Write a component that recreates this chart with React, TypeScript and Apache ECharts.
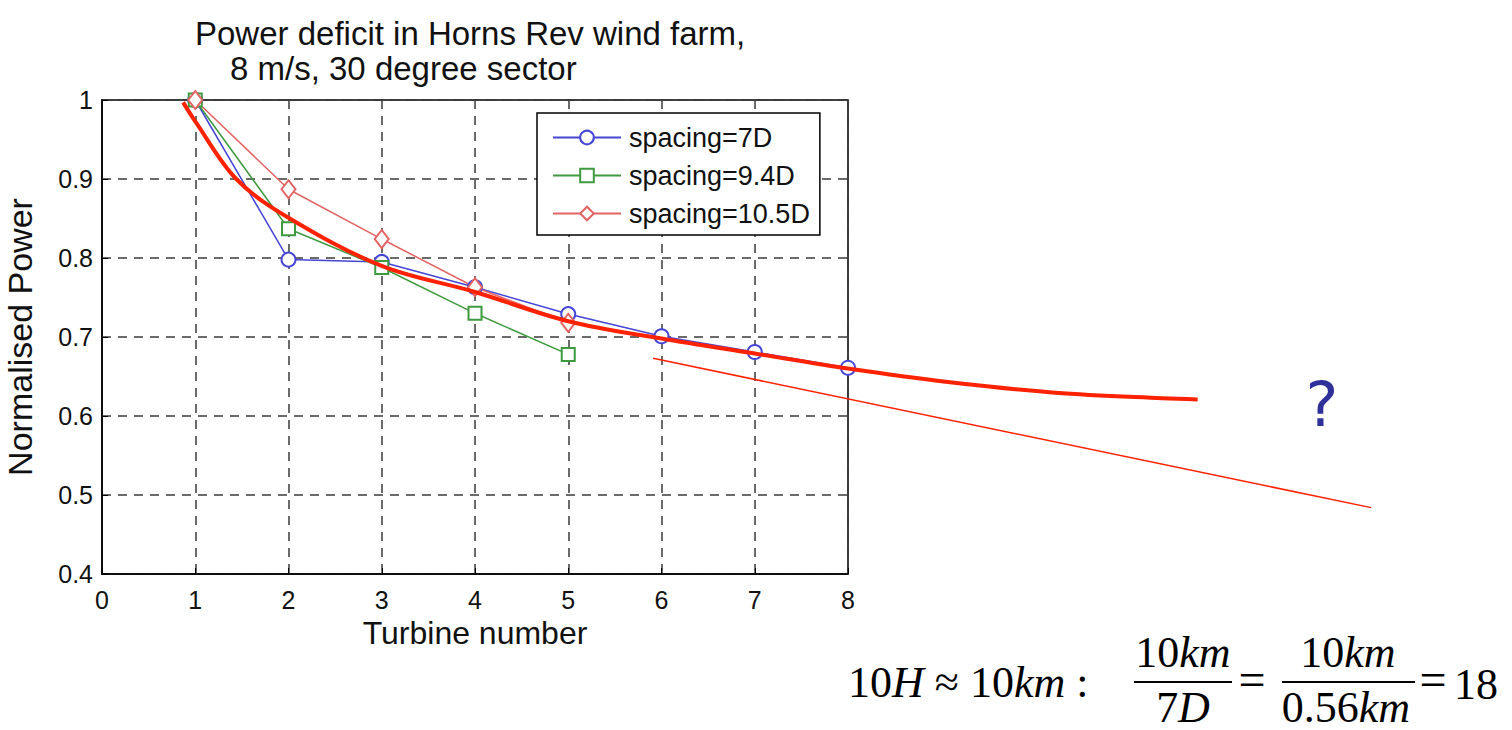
import React, { useEffect, useRef } from "react";
import * as echarts from "echarts";

// ---- data ----
const turbines7D = [1, 2, 3, 4, 5, 6, 7, 8];
const power7D = [1.0, 0.798, 0.795, 0.763, 0.729, 0.701, 0.681, 0.661];

const turbines94D = [1, 2, 3, 4, 5];
const power94D = [1.0, 0.837, 0.788, 0.73, 0.678];

const turbines105D = [1, 2, 3, 4, 5];
const power105D = [1.0, 0.887, 0.824, 0.763, 0.718];

// hand-drawn fit curve (thick red), extends beyond the axes
const fitX = [0.87, 1, 1.44, 2, 3, 4, 5, 6, 7, 8, 9.07, 10.22, 11.37, 11.75];
const fitY = [0.997, 0.973, 0.9, 0.851, 0.79, 0.757, 0.72, 0.698, 0.679, 0.66, 0.643, 0.6295, 0.6224, 0.621];

// thin straight red line
const trendX = [5.91, 13.61];
const trendY = [0.673, 0.484];

const seriesNames = ["spacing=7D", "spacing=9.4D", "spacing=10.5D"];
const titleLines = ["Power deficit in Horns Rev wind farm,", "8 m/s, 30 degree sector"];

const zip = (xs: number[], ys: number[]) => xs.map((x, i) => [x, ys[i]]);

const SANS = "Liberation Sans";
const SERIF = "Liberation Serif";

const GRID_LEFT = 102;
const GRID_TOP = 100;
const GRID_W = 746;
const GRID_H = 474;
const X_MAX = 8;
const X_MAX_EXT = 14;

export default function App() {
  const ref = useRef<HTMLDivElement>(null);

  useEffect(() => {
    if (!ref.current) return;
    const chart = echarts.init(ref.current, undefined, { renderer: "svg" });

    const rich = {
      n: { fontFamily: SERIF, fontSize: 44, fill: "#000" },
      i: { fontFamily: SERIF, fontSize: 44, fontStyle: "italic", fill: "#000" },
    };
    const mathText = (text: string, x: number, y: number, align: string) => ({
      type: "text",
      x,
      y,
      style: { text, align, verticalAlign: "middle", rich },
    });

    const hiddenAxis = {
      axisLine: { show: false },
      axisTick: { show: false },
      axisLabel: { show: false },
      splitLine: { show: false },
    };

    const option: any = {
      animation: false,
      backgroundColor: "#fff",
      textStyle: { fontFamily: SANS },
      grid: [
        {
          left: GRID_LEFT,
          top: GRID_TOP,
          width: GRID_W,
          height: GRID_H,
          show: true,
          borderColor: "#000",
          borderWidth: 1.5,
          backgroundColor: "transparent",
        },
        {
          left: GRID_LEFT,
          top: GRID_TOP,
          width: (GRID_W / X_MAX) * X_MAX_EXT,
          height: GRID_H,
          show: false,
        },
      ],
      xAxis: [
        {
          type: "value",
          gridIndex: 0,
          min: 0,
          max: X_MAX,
          interval: 1,
          name: "Turbine number",
          nameLocation: "middle",
          nameGap: 37,
          nameTextStyle: { fontSize: 32, color: "#111", fontFamily: SANS },
          axisLine: { show: true, onZero: false, lineStyle: { color: "#000", width: 1.5 } },
          axisTick: { show: true, inside: true, length: 6, lineStyle: { color: "#000" } },
          axisLabel: { fontSize: 25, color: "#111", margin: 13, fontFamily: SANS },
          splitLine: { show: true, lineStyle: { type: [9, 7], color: "#3a3a3a", width: 1.5 } },
        },
        { type: "value", gridIndex: 1, min: 0, max: X_MAX_EXT, ...hiddenAxis },
      ],
      yAxis: [
        {
          type: "value",
          gridIndex: 0,
          min: 0.4,
          max: 1,
          interval: 0.1,
          name: "Normalised Power",
          nameLocation: "middle",
          nameGap: 65,
          nameTextStyle: { fontSize: 34, color: "#111", fontFamily: SANS },
          axisLine: { show: true, onZero: false, lineStyle: { color: "#000", width: 1.5 } },
          axisTick: { show: true, inside: true, length: 6, lineStyle: { color: "#000" } },
          axisLabel: { fontSize: 25, color: "#111", margin: 9, fontFamily: SANS },
          splitLine: { show: true, lineStyle: { type: [9, 7], color: "#3a3a3a", width: 1.5 } },
        },
        { type: "value", gridIndex: 1, min: 0.4, max: 1, ...hiddenAxis },
      ],
      legend: {
        data: seriesNames,
        orient: "vertical",
        left: 537,
        top: 113,
        backgroundColor: "#fff",
        borderColor: "#000",
        borderWidth: 1.5,
        padding: [11, 10, 8, 15],
        itemWidth: 68,
        itemHeight: 17,
        itemGap: 11,
        textStyle: { fontSize: 27, color: "#111", fontFamily: SANS, padding: [0, 0, 0, 3] },
      },
      series: [
        {
          name: seriesNames[0],
          type: "line",
          xAxisIndex: 0,
          yAxisIndex: 0,
          data: zip(turbines7D, power7D),
          symbol: "emptyCircle",
          symbolSize: 14,
          color: "#4545d6",
          itemStyle: { borderWidth: 1.5 },
          lineStyle: { width: 1.5, color: "#4545d6" },
        },
        {
          name: seriesNames[1],
          type: "line",
          xAxisIndex: 0,
          yAxisIndex: 0,
          data: zip(turbines94D, power94D),
          symbol: "emptyRect",
          symbolSize: 13,
          color: "#3f9a3f",
          itemStyle: { borderWidth: 1.5 },
          lineStyle: { width: 1.5, color: "#3f9a3f" },
        },
        {
          name: seriesNames[2],
          type: "line",
          xAxisIndex: 0,
          yAxisIndex: 0,
          data: zip(turbines105D, power105D),
          symbol: "emptyDiamond",
          symbolSize: [14, 18],
          color: "#e36363",
          itemStyle: { borderWidth: 1.5 },
          lineStyle: { width: 1.5, color: "#e36363" },
        },
        {
          name: "trend",
          type: "line",
          xAxisIndex: 1,
          yAxisIndex: 1,
          data: zip(trendX, trendY),
          symbol: "none",
          lineStyle: { width: 1.5, color: "#ff2200" },
          z: 5,
        },
        {
          name: "fit",
          type: "line",
          xAxisIndex: 1,
          yAxisIndex: 1,
          data: zip(fitX, fitY),
          symbol: "none",
          smooth: 0.35,
          lineStyle: { width: 4, color: "#ff2200" },
          z: 6,
        },
      ],
      graphic: [
        {
          type: "text",
          x: 195,
          y: 33,
          style: { text: titleLines[0], fontFamily: SANS, fontSize: 33, fill: "#111", align: "left", verticalAlign: "middle" },
        },
        {
          type: "text",
          x: 230,
          y: 68,
          style: { text: titleLines[1], fontFamily: SANS, fontSize: 33, fill: "#111", align: "left", verticalAlign: "middle" },
        },
        {
          type: "text",
          x: 1322,
          y: 404,
          style: { text: "?", fontFamily: "DejaVu Sans", fontSize: 62, fill: "#30309a", align: "center", verticalAlign: "middle" },
        },
        mathText("{n|10}{i|H}{n| ≈ 10}{i|km}{n| :}", 848, 682, "left"),
        mathText("{n|10}{i|km}", 1183, 652, "center"),
        { type: "line", shape: { x1: 1134, y1: 682, x2: 1232, y2: 682 }, style: { stroke: "#000", lineWidth: 2 } },
        mathText("{n|7}{i|D}", 1183, 707, "center"),
        {
          type: "text",
          x: 1252,
          y: 679,
          style: { text: "=", fontFamily: SERIF, fontSize: 48, fill: "#000", align: "center", verticalAlign: "middle" },
        },
        mathText("{n|10}{i|km}", 1348, 652, "center"),
        { type: "line", shape: { x1: 1282, y1: 682, x2: 1415, y2: 682 }, style: { stroke: "#000", lineWidth: 2 } },
        mathText("{n|0.56}{i|km}", 1346, 707, "center"),
        {
          type: "text",
          x: 1433,
          y: 679,
          style: { text: "=", fontFamily: SERIF, fontSize: 48, fill: "#000", align: "center", verticalAlign: "middle" },
        },
        {
          type: "text",
          x: 1454,
          y: 684,
          style: { text: "18", fontFamily: SERIF, fontSize: 44, fill: "#000", align: "left", verticalAlign: "middle" },
        },
      ],
    };

    chart.setOption(option);
    return () => chart.dispose();
  }, []);

  return (
    <div
      ref={ref}
      style={{ position: "absolute", left: 0, top: 0, width: 1512, height: 730, background: "#fff" }}
    />
  );
}
